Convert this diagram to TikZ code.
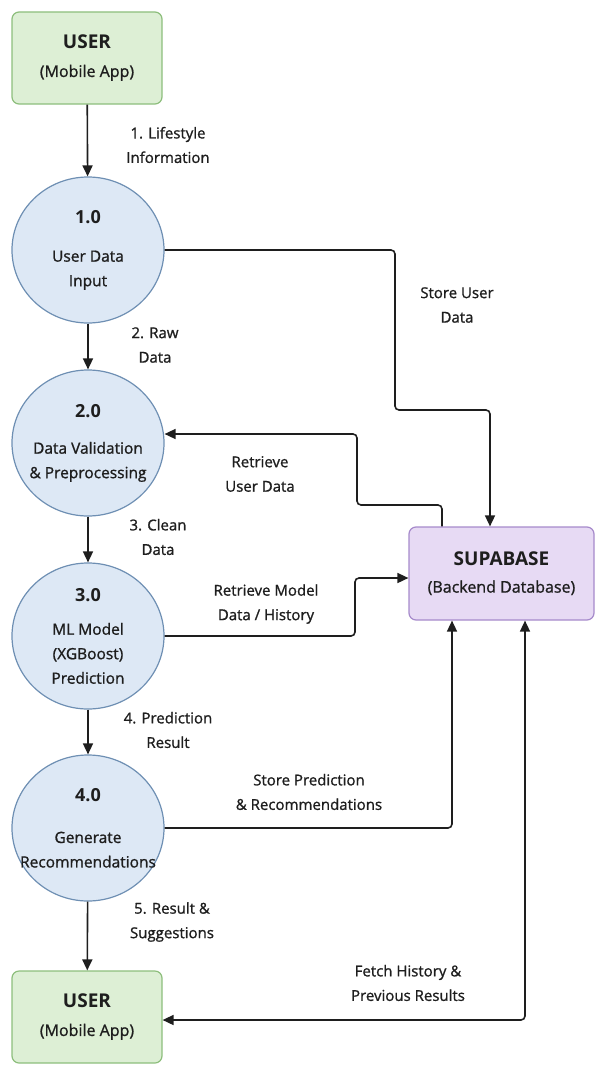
\documentclass[tikz,border=0pt]{standalone}
\usepackage{fontspec}
\setmainfont{Open Sans}[FakeBold=1.1]
\newfontfamily\boldface{Open Sans Bold}
\usetikzlibrary{shapes.geometric,arrows.meta}

\definecolor{procfill}{HTML}{DDE8F5}
\definecolor{procline}{HTML}{6E8FB3}
\definecolor{extfill}{HTML}{DDEFD5}
\definecolor{extline}{HTML}{8DBE7C}
\definecolor{dbfill}{HTML}{E7DAF4}
\definecolor{dbline}{HTML}{A68ACB}
\definecolor{ink}{HTML}{1E1E1E}

\tikzset{
  >={Triangle[length=11pt,width=10pt]},
  proc/.style={ellipse, draw=procline, fill=procfill, line width=1.2pt,
    minimum width=152pt, minimum height=146pt, inner ysep=0pt, inner xsep=-26pt,
    align=center, text=ink, font=\fontsize{15.5}{24.5}\selectfont},
  ext/.style={rectangle, rounded corners=7pt, draw=extline, fill=extfill,
    line width=1.2pt, minimum width=150pt, minimum height=92pt, align=center,
    text=ink, font=\fontsize{16}{28}\selectfont},
  dbbox/.style={rectangle, rounded corners=7pt, draw=dbline, fill=dbfill,
    line width=1.2pt, minimum width=185pt, minimum height=93pt, align=center,
    text=ink, font=\fontsize{16}{27}\selectfont},
  flow/.style={->, line width=1.6pt, draw=ink, rounded corners=4pt},
  lbl/.style={align=center, text=ink, font=\fontsize{15}{24.5}\selectfont}
}
\newcommand{\num}[1]{{\fontsize{18}{20}\selectfont\boldface #1}}
\newcommand{\ttl}[1]{{\fontsize{19}{22}\selectfont\boldface #1}}

\begin{document}
\begin{tikzpicture}[x=1pt,y=-1pt]
\useasboundingbox (0,0) rectangle (595,1065);

% external entity and processes
\node[ext] (user) at (87,58) {\ttl{USER}\\(Mobile App)};
\node[proc] (p1) at (88,250) {\num{1.0}\\[14pt]User Data\\Input};
\node[proc] (p2) at (88,443) {\num{2.0}\\[12pt]Data Validation\\\& Preprocessing};
\node[proc] (p3) at (88,636) {\num{3.0}\\[9pt]ML Model\\(XGBoost)\\Prediction};
\node[proc] (p4) at (88,828) {\num{4.0}\\[17pt]Generate\\Recommendations};
\node[ext] (user2) at (87,1017) {\ttl{USER}\\(Mobile App)};
\node[dbbox] (db) at (501.5,573.5) {\ttl{SUPABASE}\\(Backend Database)};

% main flow
\draw[flow] (user) -- (p1);
\draw[flow] (p1) -- (p2);
\draw[flow] (p2) -- (p3);
\draw[flow] (p3) -- (p4);
\draw[flow] (p4) -- (user2);

\node[lbl] (l1) at (168,145) {1. Lifestyle\\Information};
\node[lbl] (l2) at (155,345) {2. Raw\\Data};
\node[lbl] (l3) at (158,537) {3. Clean\\Data};
\node[lbl] (l4) at (168,730) {4. Prediction\\Result};
\node[lbl] (l5) at (172,922) {5. Result \&\\Suggestions};

% database flows
\draw[flow] (p1.east) -| (395,410) -| (db.north -| 490,0);
\draw[flow] (db.north -| 442,0) |- (357,505) |- (p2.east |- 0,434);
\draw[flow] (p3.east) -| (355,578) -- (db.west |- 0,578);
\draw[flow] (p4.east) -| (db.south -| 452,0);
\draw[flow,<->] (db.south -| 525,0) |- (user2.east |- 0,1020);

\node[lbl] (s1) at (457,305) {Store User\\Data};
\node[lbl] (s2) at (260,474) {Retrieve\\User Data};
\node[lbl] (s3) at (266,604) {Retrieve Model\\Data / History};
\node[lbl] (s4) at (309,792) {Store Prediction\\\& Recommendations};
\node[lbl] (s5) at (408,983) {Fetch History \&\\Previous Results};

\end{tikzpicture}
\end{document}
